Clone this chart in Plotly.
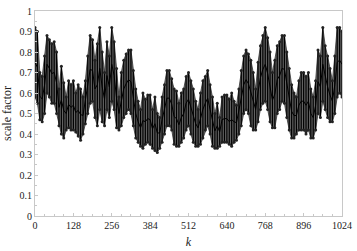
import plotly.graph_objects as go

# k positions (step 8)
k = list(range(0, 1025, 8))

# upper ends of the bars
upper = [
    0.92, 0.90, 0.70, 0.68, 0.78, 0.88, 0.86, 0.84,
    0.85, 0.80, 0.62, 0.73, 0.65, 0.58, 0.66, 0.64,
    0.66, 0.60, 0.64, 0.62, 0.58, 0.66, 0.78, 0.88,
    0.86, 0.76, 0.84, 0.92, 0.80, 0.70, 0.85, 0.78,
    0.92, 0.85, 0.72, 0.58, 0.70, 0.76, 0.79, 0.81,
    0.81, 0.71, 0.62, 0.56, 0.52, 0.60, 0.57, 0.59,
    0.59, 0.52, 0.58, 0.50, 0.48, 0.58, 0.64, 0.71,
    0.71, 0.67, 0.62, 0.61, 0.55, 0.60, 0.62, 0.68,
    0.70, 0.66, 0.62, 0.56, 0.52, 0.60, 0.66, 0.68,
    0.71, 0.64, 0.58, 0.50, 0.55, 0.48, 0.58, 0.59,
    0.59, 0.57, 0.60, 0.56, 0.54, 0.62, 0.71, 0.78,
    0.81, 0.79, 0.76, 0.70, 0.62, 0.75, 0.83, 0.88,
    0.92, 0.87, 0.80, 0.70, 0.76, 0.83, 0.85, 0.88,
    0.88, 0.80, 0.72, 0.64, 0.60, 0.58, 0.66, 0.70,
    0.70, 0.68, 0.70, 0.62, 0.58, 0.66, 0.81, 0.78,
    0.92, 0.83, 0.78, 0.72, 0.66, 0.78, 0.92, 0.92,
    0.90,
]

# lower ends of the bars
lower = [
    0.58, 0.55, 0.47, 0.46, 0.50, 0.60, 0.58, 0.55,
    0.55, 0.50, 0.44, 0.40, 0.38, 0.42, 0.43, 0.42,
    0.42, 0.41, 0.39, 0.37, 0.40, 0.45, 0.50, 0.55,
    0.56, 0.48, 0.44, 0.52, 0.46, 0.44, 0.52, 0.48,
    0.56, 0.52, 0.43, 0.42, 0.44, 0.48, 0.50, 0.52,
    0.50, 0.44, 0.38, 0.36, 0.34, 0.33, 0.35, 0.36,
    0.35, 0.33, 0.32, 0.31, 0.33, 0.36, 0.40, 0.44,
    0.44, 0.42, 0.35, 0.34, 0.34, 0.36, 0.38, 0.42,
    0.44, 0.40, 0.36, 0.34, 0.34, 0.35, 0.38, 0.42,
    0.44, 0.40, 0.34, 0.33, 0.33, 0.34, 0.36, 0.36,
    0.36, 0.35, 0.34, 0.36, 0.37, 0.40, 0.44, 0.50,
    0.52, 0.50, 0.44, 0.42, 0.42, 0.46, 0.52, 0.55,
    0.56, 0.52, 0.46, 0.43, 0.43, 0.50, 0.52, 0.56,
    0.55, 0.48, 0.42, 0.38, 0.38, 0.40, 0.42, 0.42,
    0.42, 0.40, 0.42, 0.38, 0.38, 0.42, 0.50, 0.48,
    0.56, 0.52, 0.48, 0.46, 0.46, 0.50, 0.58, 0.60,
    0.58,
]

x_ticks = [0, 128, 256, 384, 512, 640, 768, 896, 1024]
y_ticks = [0, 0.1, 0.2, 0.3, 0.4, 0.5, 0.6, 0.7, 0.8, 0.9, 1]

center = [(a + b) / 2 for a, b in zip(upper, lower)]
err_up = [a - c for a, c in zip(upper, center)]
err_dn = [c - b for b, c in zip(lower, center)]

fig = go.Figure()

# dark band between the ends
fig.add_trace(go.Scatter(x=k, y=lower, mode="lines", line=dict(color="#333", width=0.8),
                         showlegend=False, hoverinfo="skip"))
fig.add_trace(go.Scatter(x=k, y=upper, mode="lines", line=dict(color="#333", width=0.8),
                         fill="tonexty", fillcolor="rgba(70,70,70,0.85)",
                         showlegend=False, hoverinfo="skip"))

# error bars around the centre line
fig.add_trace(go.Scatter(
    x=k, y=center, mode="lines",
    line=dict(color="#000", width=1),
    error_y=dict(type="data", symmetric=False, array=err_up, arrayminus=err_dn,
                 color="#000", thickness=1.2, width=0),
    showlegend=False,
))
# end dots
fig.add_trace(go.Scatter(x=k, y=upper, mode="markers",
                         marker=dict(color="#222", size=3), showlegend=False))
fig.add_trace(go.Scatter(x=k, y=lower, mode="markers",
                         marker=dict(color="#222", size=3), showlegend=False))

axis_common = dict(
    showline=True, mirror=True, linecolor="#c8c8c8", linewidth=1,
    ticks="inside", ticklen=3, tickcolor="#c8c8c8",
    showgrid=False, zeroline=False, ticklabeloverflow="allow",
    tickfont=dict(family="Liberation Serif, serif", size=10, color="#222"),
)

fig.update_layout(
    width=357, height=251,
    margin=dict(l=30, r=9, t=5, b=23),
    paper_bgcolor="white", plot_bgcolor="white",
    font=dict(family="Liberation Serif, serif"),
    xaxis=dict(range=[0, 1024], tickvals=x_ticks,
               minor=dict(ticks="inside", ticklen=2, tickcolor="#c8c8c8", dtick=32, tick0=0),
               title=dict(text="<i>k</i>", standoff=7,
                          font=dict(family="Liberation Serif, serif", size=12, color="#222")),
               **axis_common),
    yaxis=dict(range=[0, 1], tickvals=y_ticks, ticktext=[str(v) for v in y_ticks],
               minor=dict(ticks="inside", ticklen=2, tickcolor="#c8c8c8", dtick=0.05, tick0=0),
               title=dict(text="scale factor", standoff=6,
                          font=dict(family="Liberation Serif, serif", size=12, color="#222")),
               **axis_common),
)

fig.write_html("out.html")
